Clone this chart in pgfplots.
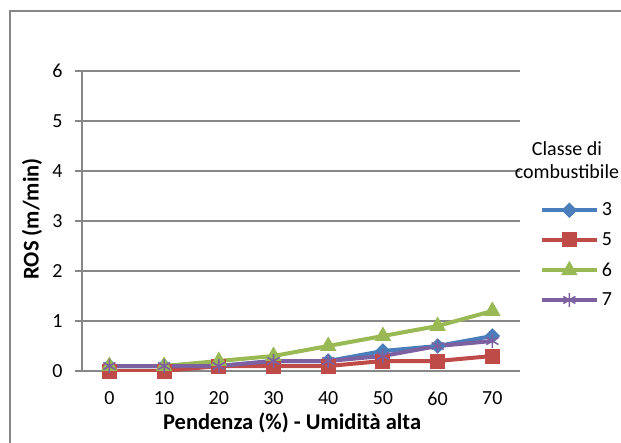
\documentclass[border=0pt]{standalone}
\usepackage{pgfplots}
\pgfplotsset{compat=1.18}
\usepackage{fontspec}
\setmainfont{Carlito}
\definecolor{cThree}{HTML}{4A7EBB}
\definecolor{cFive}{HTML}{BE4B48}
\definecolor{cSix}{HTML}{98B954}
\definecolor{cSeven}{HTML}{7D60A0}
\definecolor{gridgray}{HTML}{878787}
\begin{document}
\begin{tikzpicture}[x=1pt,y=1pt]
\useasboundingbox (-82,-71) rectangle (539,371);
\clip (-82,-71) rectangle (539,371);
% chart frame
\draw[gridgray, line width=1.2pt] (-72,-120) -- (-72,360) -- (700,360);
\begin{axis}[
  at={(0pt,0pt)}, anchor=south west,
  scale only axis, width=437.7pt, height=300pt,
  xmin=-5, xmax=75, ymin=0, ymax=6,
  xtick={0,10,...,70}, ytick={0,1,...,6},
  axis x line*=bottom, axis y line*=left,
  axis line style={-, gridgray, line width=1.2pt},
  ymajorgrids, grid style={gridgray, line width=1.2pt},
  tick align=outside, major tick length=7pt,
  xtick style={draw=none},
  ytick style={gridgray, line width=1.2pt},
  /pgf/number format/assume math mode=true,
  tick label style={font=\fontsize{20}{22}\selectfont},
  yticklabel style={xshift=-9pt},
  xticklabel style={yshift=-10pt},
  label style={font=\bfseries\fontsize{22.5}{24}\selectfont},
  xlabel={Pendenza (\%) - Umidità alta},
  ylabel={ROS (m/min)},
  xlabel style={at={(rel axis cs:0.48,0)}, yshift=-52pt, anchor=center},
  ylabel style={at={([xshift=-50pt,yshift=2pt]rel axis cs:0,0.5)}, anchor=center},
  every axis plot/.append style={line width=4pt},
  legend style={at={(1.046,0.56)}, anchor=north west, draw=none, fill=none,
    inner sep=0pt, outer sep=0pt, row sep=15pt, column sep=3pt,
    font=\fontsize{20}{22}\selectfont,
    nodes={inner sep=0pt, anchor=west}},
  legend cell align=left,
  legend image code/.code={%
    \draw[mark repeat=2,mark phase=2,#1]
      plot coordinates {(0pt,0pt) (27.5pt,0pt) (55pt,0pt)};},
]
\addplot[cThree, mark=square*, mark size=5pt,
  mark options={rotate=45, line width=1pt}]
  coordinates {(0,0.1) (10,0.1) (20,0.1) (30,0.2) (40,0.2) (50,0.4) (60,0.5) (70,0.7)};
\addlegendentry{3}
\addplot[cFive, mark=square*, mark size=7pt, mark options={line width=1pt}]
  coordinates {(0,0) (10,0) (20,0.1) (30,0.1) (40,0.1) (50,0.2) (60,0.2) (70,0.3)};
\addlegendentry{5}
\addplot[cSix, mark=triangle*, mark size=8.5pt, mark options={line width=1pt}]
  coordinates {(0,0.1) (10,0.1) (20,0.2) (30,0.3) (40,0.5) (50,0.7) (60,0.9) (70,1.2)};
\addlegendentry{6}
\addplot[cSeven, mark=asterisk, mark size=7pt, mark options={line width=1.6pt}]
  coordinates {(0,0.1) (10,0.1) (20,0.1) (30,0.2) (40,0.2) (50,0.3) (60,0.5) (70,0.6)};
\addlegendentry{7}
\end{axis}
% legend heading
\node[align=center, font=\fontsize{20}{23}\selectfont, inner sep=0pt] at (485,210.5)
  {Classe di\\combustibile};
\end{tikzpicture}
\end{document}
